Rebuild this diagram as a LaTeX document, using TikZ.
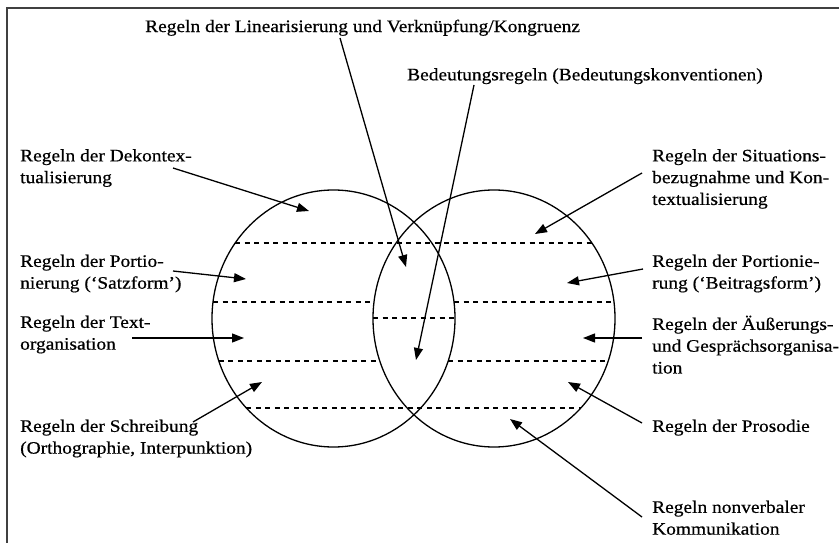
\documentclass[tikz,border=0pt]{standalone}
\usepackage{fontspec}
\setmainfont{Liberation Serif}[FakeStretch=1.11,FakeBold=0.6]
\usetikzlibrary{arrows.meta}
\begin{document}
\begin{tikzpicture}[x=1pt,y=-1pt,
  lbl/.style={anchor=north west,inner sep=0pt,align=left,
    font=\fontsize{17.5}{21.8}\selectfont},
  circ/.style={draw,line width=1.3pt},
  sep/.style={draw,line width=1.1pt,dash pattern=on 5pt off 4.5pt},
  arr/.style={line width=1.3pt,-{Triangle[length=12pt,width=9pt]}},
  frame/.style={draw=black!75,line width=2pt}]
\useasboundingbox (0,0) rectangle (839,543);
% frame
\draw[frame] (7,543) -- (7,8) -- (839,8);
% circles
\draw[circ] (333.5,318.5) ellipse [x radius=121.5, y radius=128.5];
\draw[circ] (494,318.5) ellipse [x radius=121, y radius=128.5];
% dashed separators
\draw[sep] (235.2,243) -- (591.9,243);
\draw[sep] (213,302) -- (374,302);
\draw[sep] (454,302) -- (614,302);
\draw[sep] (373,318) -- (455,318);
\draw[sep] (218.8,361) -- (379.8,361);
\draw[sep] (448.2,361) -- (608.2,361);
\draw[sep] (246.3,408) -- (580.8,408);
% labels
\node[lbl] (lin) at (145,19.5) {Regeln der Linearisierung und Verknüpfung/Kongruenz};
\node[lbl] (bed) at (407,68) {Bedeutungsregeln (Bedeutungskonventionen)};
\node[lbl] (dek) at (20,149) {Regeln der Dekontex-\\tualisierung};
\node[lbl] (por) at (20,254.5) {Regeln der Portio-\\nierung (‘Satzform’)};
\node[lbl] (txt) at (20,315.5) {Regeln der Text-\\organisation};
\node[lbl] (sch) at (20,419.5) {Regeln der Schreibung\\(Orthographie, Interpunktion)};
\node[lbl] (sit) at (652,149) {Regeln der Situations-\\bezugnahme und Kon-\\textualisierung};
\node[lbl] (pob) at (652,254.5) {Regeln der Portionie-\\rung (‘Beitragsform’)};
\node[lbl] (aeu) at (652,315.5) {Regeln der Äußerungs-\\und Gesprächsorganisa-\\tion};
\node[lbl] (pro) at (652,419.5) {Regeln der Prosodie};
\node[lbl] (non) at (652,500.5) {Regeln nonverbaler\\Kommunikation};
% arrow ends
\coordinate (lin0) at (340,38);   \coordinate (lin1) at (406,267);
\coordinate (bed0) at (474,85);   \coordinate (bed1) at (416,360);
\coordinate (dek0) at (173,168);  \coordinate (dek1) at (309,211);
\coordinate (por0) at (173,271);  \coordinate (por1) at (246,279);
\coordinate (txt0) at (132,338);  \coordinate (txt1) at (244,338);
\coordinate (sch0) at (193,422);  \coordinate (sch1) at (262,382);
\coordinate (sit0) at (642,173);  \coordinate (sit1) at (535,234);
\coordinate (pob0) at (643,269);  \coordinate (pob1) at (567,283);
\coordinate (aeu0) at (642,338);  \coordinate (aeu1) at (583,338);
\coordinate (pro0) at (642,423);  \coordinate (pro1) at (568,382);
\coordinate (non0) at (642,517);  \coordinate (non1) at (510,419);
\foreach \n in {lin,bed,dek,por,txt,sch,sit,pob,aeu,pro,non}
  \draw[arr] (\n0) -- (\n1);
\end{tikzpicture}
\end{document}
